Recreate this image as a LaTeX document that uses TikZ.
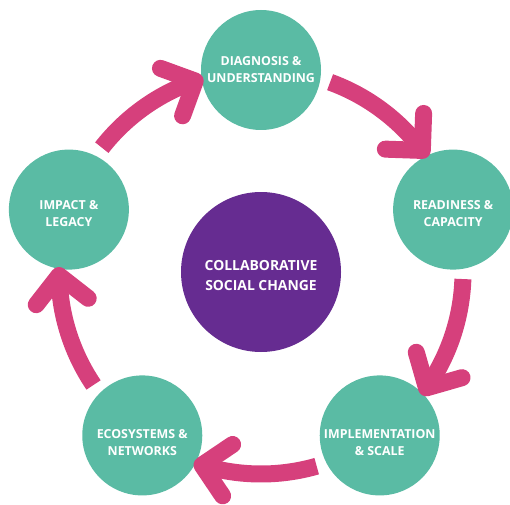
\documentclass[tikz,border=0pt]{standalone}
\usepackage{fontspec}
\setmainfont{Open Sans}
\usetikzlibrary{calc}
\definecolor{stageteal}{RGB}{90,187,164}
\definecolor{corepurple}{RGB}{102,44,145}
\definecolor{flowpink}{RGB}{214,64,124}
\begin{document}
\begin{tikzpicture}[x=1pt,y=1pt,
  stage/.style={circle, fill=stageteal, minimum size=120pt, inner sep=0pt},
  stagetext/.style={align=center, text=white, inner sep=0pt, font=\bfseries\fontsize{12.4}{17}\selectfont},
  core/.style={circle, fill=corepurple, minimum size=160pt, inner sep=0pt},
  coretext/.style={align=center, text=white, inner sep=0pt, font=\bfseries\fontsize{13.9}{20}\selectfont},
  flow/.style={draw=flowpink, line width=17pt, line cap=butt},
  flowtip/.style={draw=flowpink, line width=17pt, line cap=round, line join=round}]
\useasboundingbox (0,0) rectangle (510,504);
\clip (0,0) rectangle (510,504);
\node[core] (core) at (261,232) {};
\node[coretext] (coretxt) at ([yshift=-4]core) {COLLABORATIVE\\SOCIAL CHANGE};
\node[stage] (diag) at ($(core)+(90:202)$) {};
\node[stage] (ready) at ($(core)+(18:202)$) {};
\node[stage] (impl) at ($(core)+(-54:202)$) {};
\node[stage] (eco) at ($(core)+(-126:202)$) {};
\node[stage] (imp) at ($(core)+(162:202)$) {};
\node[stagetext] (diagtxt) at (diag) {DIAGNOSIS \&\\UNDERSTANDING};
\node[stagetext] (readytxt) at ([yshift=-3.5]ready) {READINESS \&\\CAPACITY};
\node[stagetext] (impltxt) at ([yshift=-7]impl) {IMPLEMENTATION\\\& SCALE};
\node[stagetext] (ecotxt) at ([yshift=-7]eco) {ECOSYSTEMS \&\\NETWORKS};
\node[stagetext] (imptxt) at ([yshift=-3.5]imp) {IMPACT \&\\LEGACY};
\foreach \a in {90,18,-54,-126,-198} {
  \pgfmathsetmacro\tailang{\a-20}
  \pgfmathsetmacro\tipang{\a-53}
  \pgfmathsetmacro\dirang{\a-53-90+6}
  \coordinate (tail) at ($(core)+(\tailang:202)$);
  \coordinate (tipv) at ($(core)+(\tipang:202)$);
  \coordinate (armA) at ($(tipv)+(\dirang+135:37)$);
  \coordinate (armB) at ($(tipv)+(\dirang-135:37)$);
  \draw[flow] (tail) arc[start angle=\tailang, end angle=\tipang, radius=202];
  \draw[flowtip] (armA) -- (tipv) -- (armB);
}
\end{tikzpicture}
\end{document}
